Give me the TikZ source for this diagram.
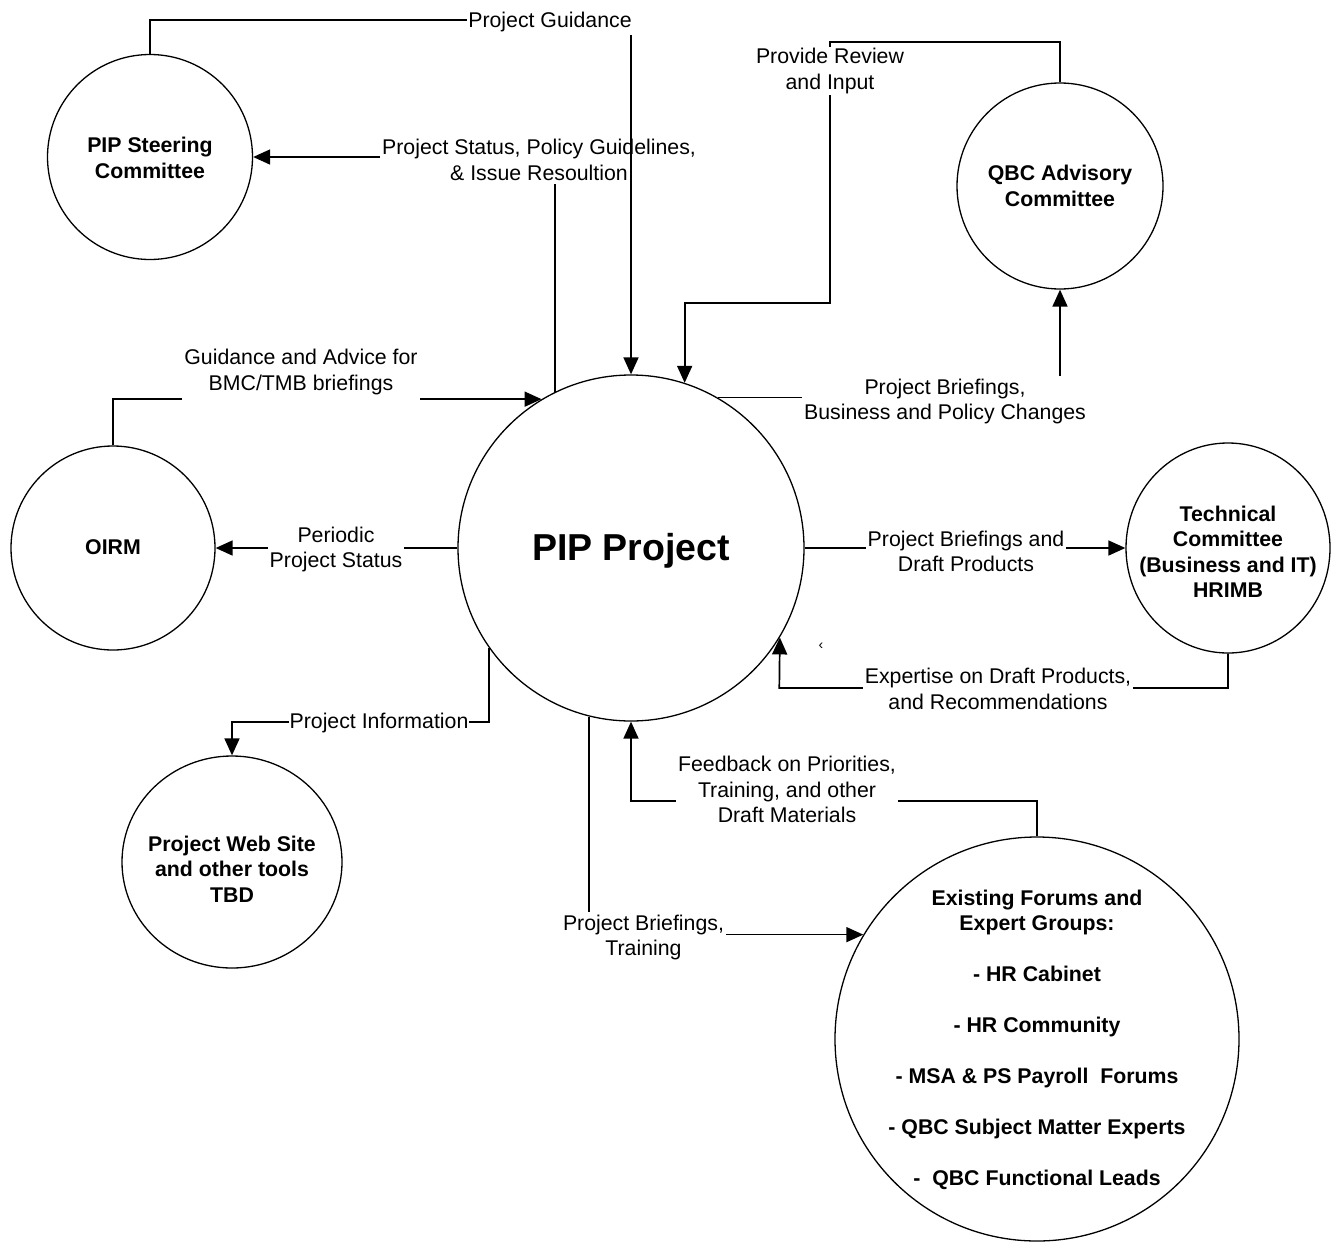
\documentclass[tikz,border=0pt]{standalone}
\usepackage{fontspec}
\setmainfont{Liberation Sans}
\usetikzlibrary{arrows.meta,shapes.geometric}
\begin{document}
\begin{tikzpicture}[x=1pt,y=-1pt,
  txt/.style={font=\fontsize{21.3}{25.5}\selectfont, align=center},
  bubble/.style={draw, line width=1.3pt, circle, inner sep=0pt},
  btext/.style={font=\bfseries\fontsize{21.3}{25.5}\selectfont, align=center, inner sep=0pt},
  flow/.style={line width=1.7pt, -{Triangle[length=17pt,width=15pt]}},
  lbl/.style={txt, fill=white, inner xsep=2pt, inner ysep=3pt, yshift=-2pt}]
\fill[white] (0,0) rectangle (1335,1245);
\useasboundingbox (0,0) rectangle (1335,1245);

% ---- bubbles ----
\node[bubble, minimum size=205pt] (steer) at (150,157) {};
\node[btext] (steer-t) at (150,158) {PIP Steering\\Committee};

\node[bubble, minimum size=206pt] (qbc) at (1060,186) {};
\node[btext] (qbc-t) at (1060,186) {QBC Advisory\\Committee};

\node[bubble, minimum size=346pt] (pip) at (631,548) {};
\node[btext, font=\bfseries\fontsize{37.5}{40}\selectfont] (pip-t) at (631,551) {PIP Project};

\node[bubble, minimum size=204pt] (oirm) at (113,548) {};
\node[btext] (oirm-t) at (113,547) {OIRM};

\node[bubble, ellipse, minimum width=220pt, minimum height=212pt] (web) at (232,862) {};
\node[btext] (web-t) at (232,869) {Project Web Site\\and other tools\\TBD};

\node[bubble, ellipse, minimum width=204pt, minimum height=210pt] (tech) at (1228,548) {};
\node[btext] (tech-t) at (1228,552) {Technical\\Committee\\(Business and IT)\\HRIMB};

\node[bubble, minimum size=404pt] (forum) at (1037,1039) {};
\node[btext] (forum-t) at (1037,1040) {Existing Forums and\\Expert Groups:\\[25.5pt]- HR Cabinet\\[25.5pt]- HR Community\\[25.5pt]- MSA \& PS Payroll\ \ Forums\\[25.5pt]- QBC Subject Matter Experts\\[25.5pt]-\ \ QBC Functional Leads};

% ---- flows ----
\draw[flow] (pip.116) |- (steer.east);
\node[lbl] (l-status) at (539,158) {Project Status, Policy Guidelines,\\\& Issue Resoultion};

\draw[flow] (steer.north) |- (631,20) -- (pip.north);
\node[lbl, inner xsep=1pt] (l-guid) at (550,20) {Project Guidance};

\draw[flow] (qbc.north) |- (830,42) -- (830,303) -| (pip.72);
\node[lbl, inner ysep=1pt] (l-review) at (830,69) {Provide Review\\and Input};

\draw[flow] (pip.60) -| (qbc.south);
\node[lbl] (l-brief) at (945,399.5) {Project Briefings,\\Business and Policy Changes};

\draw[flow] (oirm.north) |- (pip.121);
\node[lbl, inner ysep=8pt] (l-advice) at (301,370) {Guidance and Advice for\\BMC/TMB briefings};

\draw[flow] (pip.west) -- (oirm.east);
\node[lbl] (l-periodic) at (336,547.5) {Periodic\\Project Status};

\draw[flow] (pip.215) |- (379,722) -| (web.north);
\node[lbl, inner xsep=1pt, inner ysep=1pt] (l-info) at (379,721) {Project Information};

\draw[flow] (pip.east) -- (tech.west);
\node[lbl] (l-draft) at (966,549.5) {Project Briefings and\\Draft Products};

\draw[flow] (tech.south) |- (779.3,688) -- (pip.329);
\node[lbl] (l-expert) at (998,687) {Expertise on Draft Products,\\and Recommendations};

\draw[flow] (forum.north) |- (631,801) -- (pip.south);
\node[lbl] (l-feedback) at (787,787.5) {Feedback on Priorities,\\Training, and other\\Draft Materials};

\draw[flow] (pip.256) |- (forum.149);
\node[lbl] (l-training) at (643.5,935.5) {Project Briefings,\\Training};

\node[inner sep=0pt, font=\fontsize{14}{14}\selectfont] (mark) at (821,646) {‹};
\end{tikzpicture}
\end{document}
